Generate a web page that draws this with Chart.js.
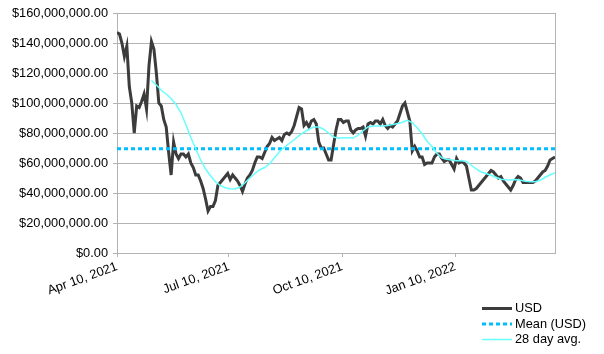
<!DOCTYPE html>
<html>
<head>
<meta charset="utf-8">
<script src="https://cdn.jsdelivr.net/npm/chart.js@4.4.1/dist/chart.umd.min.js"></script>
<style>
  body { margin: 0; background: #fff; }
  #wrap { width: 604px; height: 354px; }
</style>
</head>
<body>
<div id="wrap"><canvas id="usdChart" width="604" height="354"></canvas></div>
<script>
// days counted from Apr 10, 2021; USD sampled every 2 days (day 0..356)
var usdStep = 2;
var usdValues = [
  147, 146, 140, 131, 138, 111, 100, 80, 98, 97,
  101, 106, 96, 125, 141, 136, 120, 100, 98, 89,
  84, 67, 52, 74, 66, 63, 66, 66, 64, 66,
  60, 57, 52, 52, 48, 43, 36, 28, 31, 31,
  35, 45, 47, 49, 51, 53, 49, 52, 50, 48,
  45, 41, 46, 50, 52, 55, 60, 64, 64, 63,
  67, 71, 73, 77, 75, 76, 77, 75, 79, 80,
  79, 81, 85, 91, 97, 96, 85, 87, 84, 88,
  89, 86, 74, 70, 70, 66, 62, 62, 72, 82,
  89, 89, 87, 88, 88, 82, 80, 82, 83, 83,
  84, 78, 86, 87, 86, 88, 88, 86, 89, 85,
  83, 85, 84, 86, 88, 93, 98, 100, 94, 88,
  68, 71, 68, 64, 64, 59, 60, 60, 60, 64,
  66, 66, 63, 61, 62, 62, 59, 56, 63, 60,
  61, 60, 58, 50, 42, 42, 43, 45, 47, 49,
  51, 53, 55, 54, 52, 50, 51, 48, 46, 44,
  42, 45, 49, 51, 50, 47, 47, 47, 47, 47,
  48, 50, 52, 54, 55, 58, 62, 63, 64
]; // millions

// 28 day average, every 4 days starting at day 28
var avgStart = 28;
var avgStep = 4;
var avgValues = [
  115, 112, 108.5, 106, 103, 99, 93.5, 85.5, 77, 69.5,
  62, 56, 51.5, 47.5, 45, 43.5, 42.8, 42.7, 44, 46.8,
  50, 53, 55.5, 57, 59.5, 63.5, 67.5, 70.5, 73, 75.5,
  78.3, 80.5, 82.5, 84, 84, 82.5, 80, 77.3, 76.5, 76.8,
  76.8, 76.6, 78.5, 81.5, 84, 84.7, 84.7, 84.7, 85, 85.6,
  86.3, 87.2, 88.5, 87, 83.5, 79.5, 74.5, 71, 66.5, 63.5,
  62.5, 62, 61.5, 61.5, 61, 58.5, 56, 54, 53, 51.8,
  50.5, 49.2, 48.8, 48.7, 49, 48.5, 47.8, 47.5, 47.5, 48.5,
  50.5, 52, 53.5
]; // millions

var meanValue = 69.5; // millions
var lastDay = 356;

var tickDays = [0, 91, 183, 275];
var tickLabels = ["Apr 10, 2021", "Jul 10, 2021", "Oct 10, 2021", "Jan 10, 2022"];

var legendNames = ["USD", "Mean (USD)", "28 day avg."];

var usdPoints = usdValues.map(function (v, i) { return { x: i * usdStep, y: v * 1e6 }; });
var avgPoints = avgValues.map(function (v, i) { return { x: avgStart + i * avgStep, y: v * 1e6 }; });
var meanPoints = [{ x: 0, y: meanValue * 1e6 }, { x: lastDay, y: meanValue * 1e6 }];

Chart.defaults.font.family = "'Liberation Sans', Arial, sans-serif";
Chart.defaults.font.size = 12.8;
Chart.defaults.color = "#000";

var gridGray = "#b3b3b3";

// legend drawn by hand: stacked rows, bottom right
var sideLegend = {
  id: "sideLegend",
  afterDraw: function (chart) {
    var ctx = chart.ctx;
    var area = chart.chartArea;
    ctx.save();
    // right frame line
    ctx.strokeStyle = gridGray;
    ctx.lineWidth = 1;
    ctx.beginPath();
    ctx.moveTo(area.right + 0.5, area.top);
    ctx.lineTo(area.right + 0.5, area.bottom);
    ctx.stroke();

    var rows = [308.5, 324, 339.5];
    chart.data.datasets.forEach(function (ds, i) {
      var y = rows[i];
      ctx.strokeStyle = ds.borderColor;
      ctx.lineWidth = ds.borderWidth;
      ctx.setLineDash(ds.borderDash || []);
      ctx.beginPath();
      ctx.moveTo(482, y);
      ctx.lineTo(512, y);
      ctx.stroke();
      ctx.setLineDash([]);
      ctx.fillStyle = "#000";
      ctx.font = "12.8px 'Liberation Sans', Arial, sans-serif";
      ctx.textBaseline = "middle";
      ctx.fillText(ds.label, 515, y);
    });
    ctx.restore();
  }
};

var usdChart = new Chart(document.getElementById("usdChart").getContext("2d"), {
  type: "line",
  data: {
    datasets: [{
      label: legendNames[0],
      data: usdPoints,
      borderColor: "#3c3c3c",
      borderWidth: 3,
      pointRadius: 0,
      order: 2
    }, {
      label: legendNames[1],
      data: meanPoints,
      borderColor: "#00bfff",
      borderWidth: 3,
      borderDash: [4, 3],
      pointRadius: 0,
      order: 1
    }, {
      label: legendNames[2],
      data: avgPoints,
      borderColor: "#66ffff",
      borderWidth: 1.5,
      pointRadius: 0,
      order: 0
    }]
  },
  options: {
    responsive: false,
    animation: false,
    layout: { padding: { top: 13, right: 49, bottom: 0, left: 0 } },
    plugins: {
      legend: { display: false },
      tooltip: { enabled: false }
    },
    scales: {
      x: {
        type: "linear",
        min: 0,
        max: lastDay,
        afterBuildTicks: function (scale) {
          scale.ticks = tickDays.map(function (d) { return { value: d }; });
        },
        afterFit: function (scale) { scale.height = 101; },
        ticks: {
          autoSkip: false,
          minRotation: 20,
          maxRotation: 20,
          padding: 2,
          callback: function (value, index) { return tickLabels[index]; }
        },
        grid: { drawOnChartArea: false, tickLength: 4, color: gridGray },
        border: { color: gridGray }
      },
      y: {
        min: 0,
        max: 160e6,
        afterFit: function (scale) { scale.width = 117; },
        ticks: {
          stepSize: 20e6,
          padding: 5,
          callback: function (value) {
            return "$" + value.toLocaleString("en-US", { minimumFractionDigits: 2, maximumFractionDigits: 2 });
          }
        },
        grid: { color: gridGray, tickLength: 4 },
        border: { color: gridGray }
      }
    }
  },
  plugins: [sideLegend]
});
</script>
</body>
</html>
